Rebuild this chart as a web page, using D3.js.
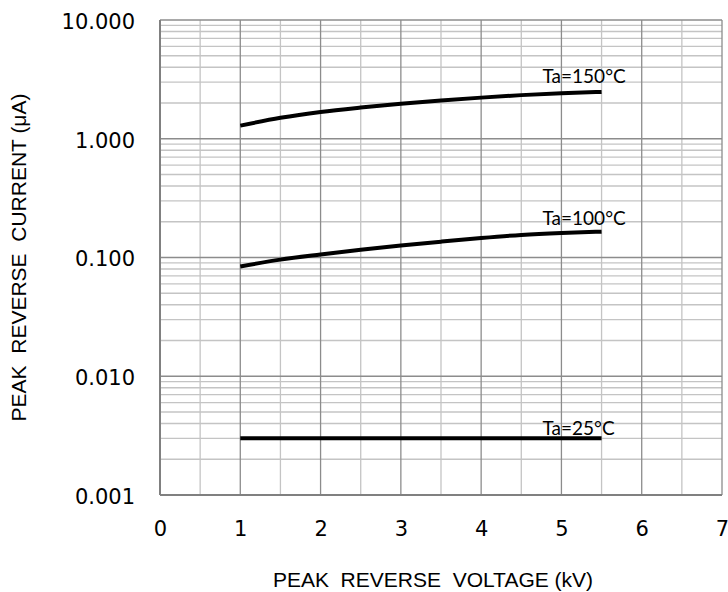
<!DOCTYPE html>
<html>
<head>
<meta charset="utf-8">
<script src="https://cdn.jsdelivr.net/npm/d3@7"></script>
<style>
  body { margin: 0; background: #fff; }
  svg { display: block; }
</style>
</head>
<body>
<div id="chart"></div>
<script>
// Peak reverse voltage (kV) and the current (uA)
const voltage = [1, 1.5, 2, 2.5, 3, 3.5, 4, 4.5, 5, 5.5];
const current150 = [1.29, 1.50, 1.68, 1.83, 1.97, 2.10, 2.22, 2.33, 2.42, 2.48];
const current100 = [0.084, 0.096, 0.106, 0.116, 0.126, 0.136, 0.146, 0.155, 0.161, 0.165];
const current25 = [0.003, 0.003, 0.003, 0.003, 0.003, 0.003, 0.003, 0.003, 0.003, 0.003];

const curveNames = ['Ta=150°C', 'Ta=100°C', 'Ta=25°C'];
const labelValues = [2.95, 0.188, 0.0032]; // where each label sits on the y axis

const xTicks = [0, 1, 2, 3, 4, 5, 6, 7];
const yTicks = [0.001, 0.01, 0.1, 1, 10];

const W = 728, H = 592;
const margin = {top: 20, right: 6, bottom: 97, left: 160};

const svg = d3.select('#chart')
    .append('svg')
    .attr('width', W)
    .attr('height', H);

const x = d3.scaleLinear()
    .domain([0, 7])
    .range([margin.left, W - margin.right]);

const y = d3.scaleLog()
    .domain([0.001, 10])
    .range([H - margin.bottom, margin.top]);

// Grid: half-kV verticals, log minor horizontals
const grid = svg.append('g');

const minorY = [];
yTicks.slice(0, -1).forEach(d => {
    for (let k = 2; k <= 9; k++) minorY.push(d * k);
});

grid.selectAll('.hminor')
    .data(minorY)
    .join('line')
    .attr('x1', x(0)).attr('x2', x(7))
    .attr('y1', d => y(d)).attr('y2', d => y(d))
    .attr('stroke', '#c4c4c4')
    .attr('stroke-width', 1.3);

grid.selectAll('.vminor')
    .data(d3.range(0.5, 7, 1))
    .join('line')
    .attr('x1', d => x(d)).attr('x2', d => x(d))
    .attr('y1', y(10)).attr('y2', y(0.001))
    .attr('stroke', '#c4c4c4')
    .attr('stroke-width', 1.3);

grid.selectAll('.hmajor')
    .data(yTicks)
    .join('line')
    .attr('x1', x(0)).attr('x2', x(7))
    .attr('y1', d => y(d)).attr('y2', d => y(d))
    .attr('stroke', '#8c8c8c')
    .attr('stroke-width', 1.3);

grid.selectAll('.vmajor')
    .data(xTicks)
    .join('line')
    .attr('x1', d => x(d)).attr('x2', d => x(d))
    .attr('y1', y(10)).attr('y2', y(0.001))
    .attr('stroke', '#8c8c8c')
    .attr('stroke-width', 1.3);

// Left and bottom frame
svg.append('line')
    .attr('x1', x(0)).attr('x2', x(0))
    .attr('y1', y(10)).attr('y2', y(0.001))
    .attr('stroke', '#808080').attr('stroke-width', 2);
svg.append('line')
    .attr('x1', x(0)).attr('x2', x(7))
    .attr('y1', y(0.001)).attr('y2', y(0.001))
    .attr('stroke', '#808080').attr('stroke-width', 2);

// Axes (labels only, the grid draws the lines)
const fmt = d3.format('.3f');

const yAxis = svg.append('g')
    .attr('transform', `translate(${x(0)},0)`)
    .call(d3.axisLeft(y).tickValues(yTicks).tickFormat(fmt).tickSize(0).tickPadding(25));
yAxis.select('.domain').remove();
yAxis.selectAll('text')
    .attr('dy', '0.4em')
    .style('font-family', '"DejaVu Sans", sans-serif')
    .style('font-size', '21px')
    .attr('fill', '#000');

const xAxis = svg.append('g')
    .attr('transform', `translate(0,${y(0.001)})`)
    .call(d3.axisBottom(x).tickValues(xTicks).tickFormat(d3.format('d')).tickSize(0).tickPadding(26));
xAxis.select('.domain').remove();
xAxis.selectAll('text')
    .style('font-family', '"DejaVu Sans", sans-serif')
    .style('font-size', '21px')
    .attr('fill', '#000');

// Curves
const series = [current150, current100, current25];
const line = d3.line()
    .x((d, i) => x(voltage[i]))
    .y(d => y(d))
    .curve(d3.curveMonotoneX);

svg.selectAll('.curve')
    .data(series)
    .join('path')
    .attr('d', line)
    .attr('fill', 'none')
    .attr('stroke', '#000')
    .attr('stroke-width', 4);

svg.selectAll('.curve-label')
    .data(curveNames)
    .join('text')
    .attr('x', x(voltage[voltage.length - 1]) - 59)
    .attr('y', (d, i) => y(labelValues[i]))
    .style('font-family', 'Lato, sans-serif')
    .style('font-size', '19px')
    .attr('fill', '#000')
    .text(d => d);

// Axis titles
svg.append('text')
    .attr('x', (x(0) + x(7)) / 2 - 8)
    .attr('y', 587)
    .attr('text-anchor', 'middle')
    .style('font-family', '"Liberation Sans", Arial, sans-serif')
    .style('font-size', '21px')
    .attr('xml:space', 'preserve')
    .text('PEAK  REVERSE  VOLTAGE (kV)');

svg.append('text')
    .attr('transform', `translate(26,${(y(10) + y(0.001)) / 2}) rotate(-90)`)
    .attr('text-anchor', 'middle')
    .style('font-family', '"Liberation Sans", Arial, sans-serif')
    .style('font-size', '21px')
    .attr('xml:space', 'preserve')
    .text('PEAK  REVERSE  CURRENT (μA)');
</script>
</body>
</html>
